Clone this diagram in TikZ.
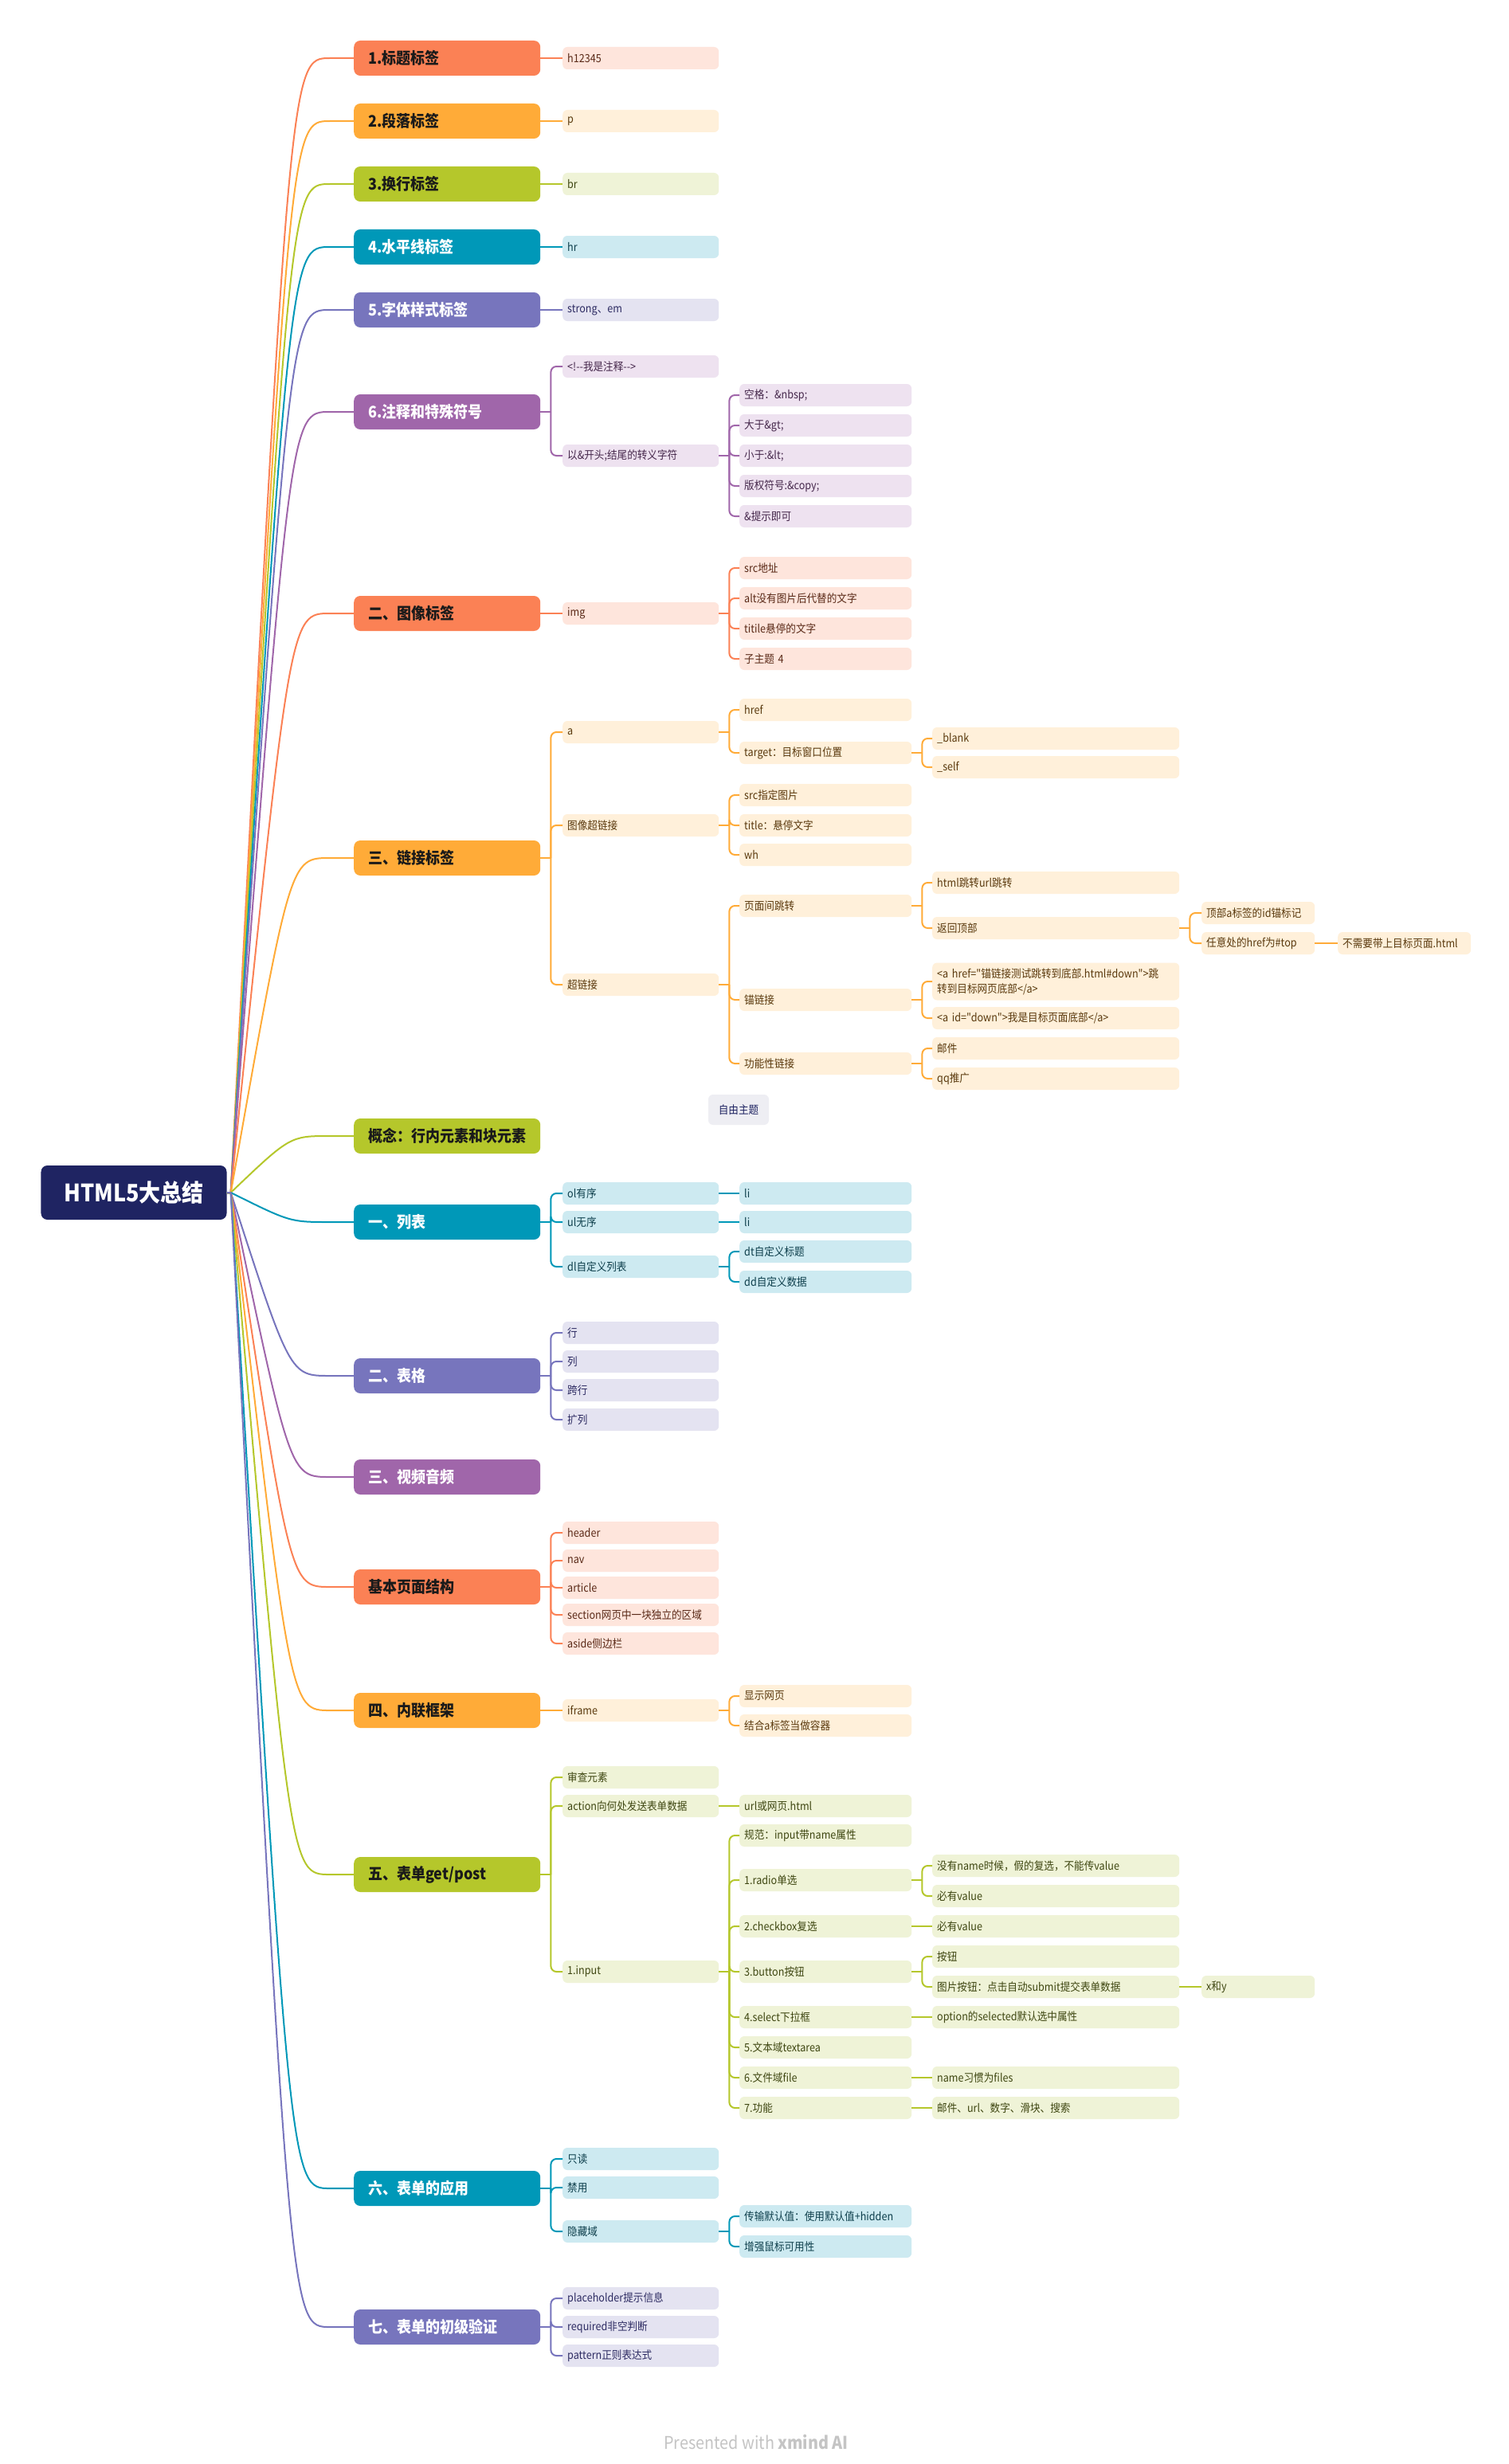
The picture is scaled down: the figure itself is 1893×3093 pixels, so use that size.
\documentclass[tikz,border=0pt]{standalone}
\usepackage{fontspec}
\setmainfont{Noto Sans CJK SC}[FakeStretch=0.9,Ligatures=TeXOff]
\usetikzlibrary{calc}
\definecolor{dCo}{HTML}{FB8155}\definecolor{lCo}{HTML}{FEE5DC}\definecolor{tCo}{HTML}{5A2A18}
\definecolor{dOr}{HTML}{FFAB38}\definecolor{lOr}{HTML}{FFF0DA}\definecolor{tOr}{HTML}{5A3A0E}
\definecolor{dLi}{HTML}{B5C72B}\definecolor{lLi}{HTML}{EFF3D7}\definecolor{tLi}{HTML}{3F4712}
\definecolor{dTe}{HTML}{0098B8}\definecolor{lTe}{HTML}{CDEAF1}\definecolor{tTe}{HTML}{0E3F4C}
\definecolor{dIn}{HTML}{7775BD}\definecolor{lIn}{HTML}{E4E3F1}\definecolor{tIn}{HTML}{2E2C63}
\definecolor{dPu}{HTML}{A066AA}\definecolor{lPu}{HTML}{EEE2F0}\definecolor{tPu}{HTML}{46284C}
\definecolor{navy}{HTML}{1F2462}\definecolor{freebg}{HTML}{EEEEF3}\definecolor{foot}{HTML}{C4C4C4}
\definecolor{dark}{HTML}{1A1A1A}
\newcommand{\leaffont}{\fontsize{14bp}{19bp}\selectfont}
\newcommand{\lonefont}{\fontsize{20bp}{24bp}\selectfont\bfseries}
\newcommand{\rootfont}{\fontsize{30bp}{36bp}\selectfont\bfseries}
\newcommand{\kid}[3]{\draw[ln=#1,rounded corners=7bp] ($(#2.east)+(13,0)$) |- (#3.west);}
\newcommand{\kstub}[2]{\draw[lnb=#1] (#2.east) -- ++(13,0);}
\newcommand{\onekid}[3]{\draw[lnb=#1] (#2.east) -- (#3.west);}
\newcommand{\rtrunk}[2]{\draw[ln=#1] (root.east) -- ++(5,0) .. controls ($(#2.west)+(-80,0)$) .. ($(#2.west)+(-30,0)$) -- (#2.west);}
\tikzset{
  ln/.style={draw=#1,line width=2bp},
  lnb/.style={draw=#1,line width=2.6bp},
  rootbox/.style={fill=navy,text=white,rounded corners=8bp,minimum width=233bp,minimum height=68bp,font=\rootfont,inner sep=0pt},
  lone/.style={anchor=west,rounded corners=8bp,minimum height=44bp,text width=198bp,inner xsep=18bp,inner ysep=0pt,align=left,font=\lonefont},
  loneD/.style={lone,fill=#1,text=dark},
  loneL/.style={lone,fill=#1,text=white},
  lf/.style={anchor=west,rounded corners=6bp,minimum height=28bp,inner xsep=6bp,inner ysep=0pt,align=left,font=\leaffont},
  cw2/.style={text width=184bp},
  cw3/.style={text width=204bp},
  cw4/.style={text width=298bp},
  cw5/.style={text width=130bp},
  cw6/.style={text width=155bp},
  Co/.style={fill=lCo,text=tCo},
  Or/.style={fill=lOr,text=tOr},
  Li/.style={fill=lLi,text=tLi},
  Te/.style={fill=lTe,text=tTe},
  In/.style={fill=lIn,text=tIn},
  Pu/.style={fill=lPu,text=tPu},
  free/.style={fill=freebg,text=navy,rounded corners=6bp,minimum width=76bp,minimum height=38bp,font=\leaffont,inner sep=0pt},
}
\begin{document}
\begin{tikzpicture}[x=1bp,y=-1bp]
\fill[white] (0,0) rectangle (1893,3093);
\useasboundingbox (0,0) rectangle (1893,3093);

\node[rootbox] (root) at (168,1497) {HTML5大总结};

% level 1
\node[loneD=dCo] (b1) at (444,73) {1.标题标签};
\node[loneD=dOr] (b2) at (444,152) {2.段落标签};
\node[loneD=dLi] (b3) at (444,231) {3.换行标签};
\node[loneL=dTe] (b4) at (444,310) {4.水平线标签};
\node[loneL=dIn] (b5) at (444,389) {5.字体样式标签};
\node[loneL=dPu] (b6) at (444,517) {6.注释和特殊符号};
\node[loneD=dCo] (b7) at (444,770) {二、图像标签};
\node[loneD=dOr] (b8) at (444,1077) {三、链接标签};
\node[loneD=dLi] (b9) at (444,1426) {概念：行内元素和块元素};
\node[loneL=dTe] (b10) at (444,1534) {一、列表};
\node[loneL=dIn] (b11) at (444,1727) {二、表格};
\node[loneL=dPu] (b12) at (444,1854) {三、视频音频};
\node[loneD=dCo] (b13) at (444,1992) {基本页面结构};
\node[loneD=dOr] (b14) at (444,2147) {四、内联框架};
\node[loneD=dLi] (b15) at (444,2353) {五、表单get/post};
\node[loneL=dTe] (b16) at (444,2747) {六、表单的应用};
\node[loneL=dIn] (b17) at (444,2921) {七、表单的初级验证};

\rtrunk{dCo}{b1}\rtrunk{dOr}{b2}\rtrunk{dLi}{b3}\rtrunk{dTe}{b4}\rtrunk{dIn}{b5}
\rtrunk{dPu}{b6}\rtrunk{dCo}{b7}\rtrunk{dOr}{b8}\rtrunk{dLi}{b9}\rtrunk{dTe}{b10}
\rtrunk{dIn}{b11}\rtrunk{dPu}{b12}\rtrunk{dCo}{b13}\rtrunk{dOr}{b14}\rtrunk{dLi}{b15}
\rtrunk{dTe}{b16}\rtrunk{dIn}{b17}

% b1-b5
\node[lf,cw2,Co] (b1a) at (706,73) {h12345};
\node[lf,cw2,Or] (b2a) at (706,152) {p};
\node[lf,cw2,Li] (b3a) at (706,231) {br};
\node[lf,cw2,Te] (b4a) at (706,310) {hr};
\node[lf,cw2,In] (b5a) at (706,389) {strong、em};
\onekid{dCo}{b1}{b1a}\onekid{dOr}{b2}{b2a}\onekid{dLi}{b3}{b3a}
\onekid{dTe}{b4}{b4a}\onekid{dIn}{b5}{b5a}

% b6
\node[lf,cw2,Pu] (b6a) at (706,460) {<!--我是注释-->};
\node[lf,cw2,Pu] (b6b) at (706,572) {以\&开头;结尾的转义字符};
\node[lf,cw3,Pu] (b6b1) at (928,496) {空格：\&nbsp;};
\node[lf,cw3,Pu] (b6b2) at (928,534) {大于\&gt;};
\node[lf,cw3,Pu] (b6b3) at (928,572) {小于:\&lt;};
\node[lf,cw3,Pu] (b6b4) at (928,610) {版权符号:\&copy;};
\node[lf,cw3,Pu] (b6b5) at (928,648) {\&提示即可};
\kstub{dPu}{b6}\kid{dPu}{b6}{b6a}\kid{dPu}{b6}{b6b}
\kstub{dPu}{b6b}\kid{dPu}{b6b}{b6b1}\kid{dPu}{b6b}{b6b2}\kid{dPu}{b6b}{b6b3}\kid{dPu}{b6b}{b6b4}\kid{dPu}{b6b}{b6b5}

% b7
\node[lf,cw2,Co] (b7a) at (706,770) {img};
\node[lf,cw3,Co] (b7a1) at (928,713) {src地址};
\node[lf,cw3,Co] (b7a2) at (928,751) {alt没有图片后代替的文字};
\node[lf,cw3,Co] (b7a3) at (928,789) {titile悬停的文字};
\node[lf,cw3,Co] (b7a4) at (928,827) {子主题 4};
\onekid{dCo}{b7}{b7a}
\kstub{dCo}{b7a}\kid{dCo}{b7a}{b7a1}\kid{dCo}{b7a}{b7a2}\kid{dCo}{b7a}{b7a3}\kid{dCo}{b7a}{b7a4}

% b8
\node[lf,cw2,Or] (b8a) at (706,919) {a};
\node[lf,cw2,Or] (b8b) at (706,1036) {图像超链接};
\node[lf,cw2,Or] (b8c) at (706,1236) {超链接};
\node[lf,cw3,Or] (b8a1) at (928,891) {href};
\node[lf,cw3,Or] (b8a2) at (928,945) {target：目标窗口位置};
\node[lf,cw4,Or] (b8a2x) at (1170,927) {\_blank};
\node[lf,cw4,Or] (b8a2y) at (1170,963) {\_self};
\node[lf,cw3,Or] (b8b1) at (928,998) {src指定图片};
\node[lf,cw3,Or] (b8b2) at (928,1036) {title：悬停文字};
\node[lf,cw3,Or] (b8b3) at (928,1073) {wh};
\node[lf,cw3,Or] (b8c1) at (928,1137) {页面间跳转};
\node[lf,cw3,Or] (b8c2) at (928,1255) {锚链接};
\node[lf,cw3,Or] (b8c3) at (928,1335) {功能性链接};
\node[lf,cw4,Or] (b8c1a) at (1170,1108) {html跳转url跳转};
\node[lf,cw4,Or] (b8c1b) at (1170,1165) {返回顶部};
\node[lf,cw5,Or] (b8c1b1) at (1508,1146) {顶部a标签的id锚标记};
\node[lf,cw5,Or] (b8c1b2) at (1508,1184) {任意处的href为\#top};
\node[lf,cw6,Or] (b8c1b2a) at (1679,1184) {不需要带上目标页面.html};
\node[lf,cw4,Or,minimum height=47bp] (b8c2a) at (1170,1232) {<a href="锚链接测试跳转到底部.html\#down">跳\\转到目标网页底部</a>};
\node[lf,cw4,Or] (b8c2b) at (1170,1278) {<a id="down">我是目标页面底部</a>};
\node[lf,cw4,Or] (b8c3a) at (1170,1316) {邮件};
\node[lf,cw4,Or] (b8c3b) at (1170,1354) {qq推广};
\kstub{dOr}{b8}\kid{dOr}{b8}{b8a}\kid{dOr}{b8}{b8b}\kid{dOr}{b8}{b8c}
\kstub{dOr}{b8a}\kid{dOr}{b8a}{b8a1}\kid{dOr}{b8a}{b8a2}
\kstub{dOr}{b8a2}\kid{dOr}{b8a2}{b8a2x}\kid{dOr}{b8a2}{b8a2y}
\kstub{dOr}{b8b}\kid{dOr}{b8b}{b8b1}\kid{dOr}{b8b}{b8b2}\kid{dOr}{b8b}{b8b3}
\kstub{dOr}{b8c}\kid{dOr}{b8c}{b8c1}\kid{dOr}{b8c}{b8c2}\kid{dOr}{b8c}{b8c3}
\kstub{dOr}{b8c1}\kid{dOr}{b8c1}{b8c1a}\kid{dOr}{b8c1}{b8c1b}
\kstub{dOr}{b8c1b}\kid{dOr}{b8c1b}{b8c1b1}\kid{dOr}{b8c1b}{b8c1b2}
\onekid{dOr}{b8c1b2}{b8c1b2a}
\kstub{dOr}{b8c2}\kid{dOr}{b8c2}{b8c2a}\kid{dOr}{b8c2}{b8c2b}
\kstub{dOr}{b8c3}\kid{dOr}{b8c3}{b8c3a}\kid{dOr}{b8c3}{b8c3b}

\node[free] (free) at (927,1393) {自由主题};

% b10
\node[lf,cw2,Te] (b10a) at (706,1498) {ol有序};
\node[lf,cw2,Te] (b10b) at (706,1534) {ul无序};
\node[lf,cw2,Te] (b10c) at (706,1590) {dl自定义列表};
\node[lf,cw3,Te] (b10a1) at (928,1498) {li};
\node[lf,cw3,Te] (b10b1) at (928,1534) {li};
\node[lf,cw3,Te] (b10c1) at (928,1571) {dt自定义标题};
\node[lf,cw3,Te] (b10c2) at (928,1609) {dd自定义数据};
\kstub{dTe}{b10}\kid{dTe}{b10}{b10a}\kid{dTe}{b10}{b10b}\kid{dTe}{b10}{b10c}
\onekid{dTe}{b10a}{b10a1}\onekid{dTe}{b10b}{b10b1}
\kstub{dTe}{b10c}\kid{dTe}{b10c}{b10c1}\kid{dTe}{b10c}{b10c2}

% b11
\node[lf,cw2,In] (b11a) at (706,1673) {行};
\node[lf,cw2,In] (b11b) at (706,1709) {列};
\node[lf,cw2,In] (b11c) at (706,1745) {跨行};
\node[lf,cw2,In] (b11d) at (706,1782) {扩列};
\kstub{dIn}{b11}\kid{dIn}{b11}{b11a}\kid{dIn}{b11}{b11b}\kid{dIn}{b11}{b11c}\kid{dIn}{b11}{b11d}

% b13
\node[lf,cw2,Co] (b13a) at (706,1924) {header};
\node[lf,cw2,Co] (b13b) at (706,1959) {nav};
\node[lf,cw2,Co] (b13c) at (706,1993) {article};
\node[lf,cw2,Co] (b13d) at (706,2027) {section网页中一块独立的区域};
\node[lf,cw2,Co] (b13e) at (706,2063) {aside侧边栏};
\kstub{dCo}{b13}\kid{dCo}{b13}{b13a}\kid{dCo}{b13}{b13b}\kid{dCo}{b13}{b13c}\kid{dCo}{b13}{b13d}\kid{dCo}{b13}{b13e}

% b14
\node[lf,cw2,Or] (b14a) at (706,2147) {iframe};
\node[lf,cw3,Or] (b14a1) at (928,2129) {显示网页};
\node[lf,cw3,Or] (b14a2) at (928,2166) {结合a标签当做容器};
\onekid{dOr}{b14}{b14a}
\kstub{dOr}{b14a}\kid{dOr}{b14a}{b14a1}\kid{dOr}{b14a}{b14a2}

% b15
\node[lf,cw2,Li] (b15a) at (706,2231) {审查元素};
\node[lf,cw2,Li] (b15b) at (706,2267) {action向何处发送表单数据};
\node[lf,cw2,Li] (b15c) at (706,2475) {1.input};
\node[lf,cw3,Li] (b15b1) at (928,2267) {url或网页.html};
\node[lf,cw3,Li] (b15c1) at (928,2304) {规范：input带name属性};
\node[lf,cw3,Li] (b15c2) at (928,2360) {1.radio单选};
\node[lf,cw3,Li] (b15c3) at (928,2418) {2.checkbox复选};
\node[lf,cw3,Li] (b15c4) at (928,2475) {3.button按钮};
\node[lf,cw3,Li] (b15c5) at (928,2532) {4.select下拉框};
\node[lf,cw3,Li] (b15c6) at (928,2570) {5.文本域textarea};
\node[lf,cw3,Li] (b15c7) at (928,2608) {6.文件域file};
\node[lf,cw3,Li] (b15c8) at (928,2646) {7.功能};
\node[lf,cw4,Li] (b15c2a) at (1170,2342) {没有name时候，假的复选，不能传value};
\node[lf,cw4,Li] (b15c2b) at (1170,2380) {必有value};
\node[lf,cw4,Li] (b15c3a) at (1170,2418) {必有value};
\node[lf,cw4,Li] (b15c4a) at (1170,2456) {按钮};
\node[lf,cw4,Li] (b15c4b) at (1170,2494) {图片按钮：点击自动submit提交表单数据};
\node[lf,cw5,Li] (b15c4b1) at (1508,2494) {x和y};
\node[lf,cw4,Li] (b15c5a) at (1170,2532) {option的selected默认选中属性};
\node[lf,cw4,Li] (b15c7a) at (1170,2608) {name习惯为files};
\node[lf,cw4,Li] (b15c8a) at (1170,2646) {邮件、url、数字、滑块、搜索};
\kstub{dLi}{b15}\kid{dLi}{b15}{b15a}\kid{dLi}{b15}{b15b}\kid{dLi}{b15}{b15c}
\onekid{dLi}{b15b}{b15b1}
\kstub{dLi}{b15c}\kid{dLi}{b15c}{b15c1}\kid{dLi}{b15c}{b15c2}\kid{dLi}{b15c}{b15c3}\kid{dLi}{b15c}{b15c4}
\kid{dLi}{b15c}{b15c5}\kid{dLi}{b15c}{b15c6}\kid{dLi}{b15c}{b15c7}\kid{dLi}{b15c}{b15c8}
\kstub{dLi}{b15c2}\kid{dLi}{b15c2}{b15c2a}\kid{dLi}{b15c2}{b15c2b}
\onekid{dLi}{b15c3}{b15c3a}
\kstub{dLi}{b15c4}\kid{dLi}{b15c4}{b15c4a}\kid{dLi}{b15c4}{b15c4b}
\onekid{dLi}{b15c4b}{b15c4b1}
\onekid{dLi}{b15c5}{b15c5a}\onekid{dLi}{b15c7}{b15c7a}\onekid{dLi}{b15c8}{b15c8a}

% b16
\node[lf,cw2,Te] (b16a) at (706,2710) {只读};
\node[lf,cw2,Te] (b16b) at (706,2746) {禁用};
\node[lf,cw2,Te] (b16c) at (706,2801) {隐藏域};
\node[lf,cw3,Te] (b16c1) at (928,2782) {传输默认值：使用默认值+hidden};
\node[lf,cw3,Te] (b16c2) at (928,2820) {增强鼠标可用性};
\kstub{dTe}{b16}\kid{dTe}{b16}{b16a}\kid{dTe}{b16}{b16b}\kid{dTe}{b16}{b16c}
\kstub{dTe}{b16c}\kid{dTe}{b16c}{b16c1}\kid{dTe}{b16c}{b16c2}

% b17
\node[lf,cw2,In] (b17a) at (706,2885) {placeholder提示信息};
\node[lf,cw2,In] (b17b) at (706,2921) {required非空判断};
\node[lf,cw2,In] (b17c) at (706,2957) {pattern正则表达式};
\kstub{dIn}{b17}\kid{dIn}{b17}{b17a}\kid{dIn}{b17}{b17b}\kid{dIn}{b17}{b17c}

\node[text=foot,font=\fontsize{22bp}{26bp}\selectfont] (footer) at (949,3065) {Presented with \textbf{xmind AI}};
\end{tikzpicture}
\end{document}
